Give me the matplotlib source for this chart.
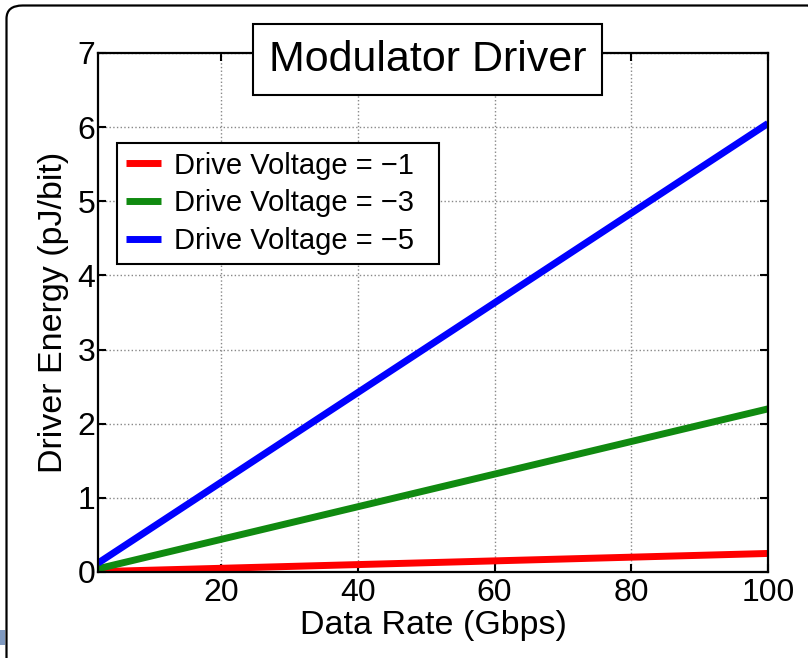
import matplotlib
matplotlib.use('Agg')
import matplotlib.pyplot as plt
import matplotlib.patches as patches

plt.rcParams['font.family'] = ['Liberation Sans', 'DejaVu Sans']

# data
rate = [2, 20, 40, 60, 80, 100]
e_v1 = [0.005, 0.05, 0.10, 0.15, 0.20, 0.25]
e_v3 = [0.044, 0.44, 0.88, 1.32, 1.76, 2.20]
e_v5 = [0.12, 1.21, 2.42, 3.63, 4.84, 6.05]
labels = ['Drive Voltage = \u22121', 'Drive Voltage = \u22123', 'Drive Voltage = \u22125']
colors = ['#ff0000', '#108a10', '#0000ff']
xticks = [20, 40, 60, 80, 100]
yticks = [0, 1, 2, 3, 4, 5, 6, 7]

fig = plt.figure(figsize=(8.08, 6.58), dpi=100)
ax = fig.add_axes([0.1213, 0.1307, 0.8292, 0.7888])

for y, lab, c in zip([e_v1, e_v3, e_v5], labels, colors):
    # trailing spaces widen the legend box like the matlab one
    ax.plot(rate, y, color=c, linewidth=5, label=lab + '  ', solid_capstyle='butt')

ax.set_xlim(2, 100)
ax.set_ylim(0, 7)
ax.set_xticks(xticks)
ax.set_yticks(yticks)
ax.tick_params(direction='in', length=6, width=1.5, top=True, right=True, labelsize=23)
ax.tick_params(axis='y', pad=2)
ax.tick_params(axis='x', pad=4)
ax.grid(True, linestyle=':', color='#888888', linewidth=1)
for s in ax.spines.values():
    s.set_linewidth(1.6)

ax.set_xlabel('Data Rate (Gbps)', fontsize=24.5, labelpad=2)
ax.set_ylabel('Driver Energy (pJ/bit)', fontsize=24.5, labelpad=6)

leg = ax.legend(loc='upper left', bbox_to_anchor=(0.028, 0.827), borderaxespad=0,
                fontsize=21, handlelength=1.2, handletextpad=0.45, labelspacing=0.34,
                borderpad=0.3, fancybox=False, framealpha=1, edgecolor='black')
leg.get_frame().set_linewidth(1.5)
for ln in leg.get_lines():
    ln.set_linewidth(5)

# title box over the top of the axes
fig.text(0.529, 0.909, 'Modulator Driver', fontsize=31, ha='center', va='center',
         zorder=10, bbox=dict(boxstyle='square,pad=0.36', facecolor='white',
                              edgecolor='black', linewidth=1.5))

# slide frame around the chart
frame = patches.FancyBboxPatch((6.5 / 808, -0.2), (808 - 6.5) / 808 + 0.02, 1.2 - 5.5 / 658,
                               boxstyle='round,pad=0,rounding_size=0.02',
                               transform=fig.transFigure, fill=False,
                               edgecolor='black', linewidth=1.6, zorder=0)
fig.patches.append(frame)
fig.patches.append(patches.Rectangle((0, 13 / 658), 5 / 808, 15 / 658,
                                     transform=fig.transFigure,
                                     facecolor='#7f99bf', edgecolor='none'))

fig.savefig('out.png', dpi=100)
